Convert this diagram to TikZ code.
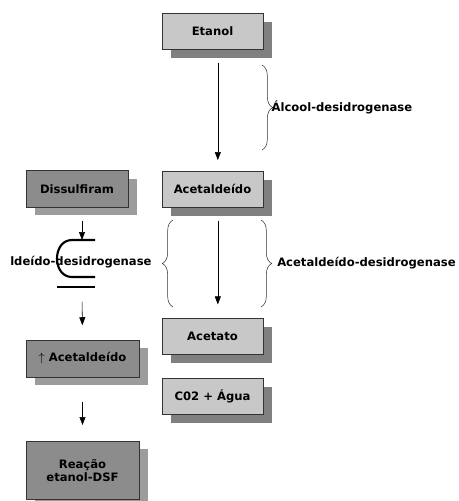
\documentclass[tikz,border=0pt]{standalone}
\usepackage{fontspec}
\setmainfont{DejaVu Sans}
\usetikzlibrary{arrows.meta,shadows,decorations.pathreplacing}
\definecolor{caixaclara}{HTML}{C8C8C8}
\definecolor{caixaescura}{HTML}{8C8C8C}
\definecolor{sombraclara}{HTML}{808080}
\definecolor{sombraescura}{HTML}{9C9C9C}
\begin{document}
\begin{tikzpicture}[x=0.75pt,y=-0.75pt,
        font=\bfseries\fontsize{8.7}{11}\selectfont,
        caixa/.style={draw=black!80,thin,fill=caixaclara,minimum width=75.75pt,minimum height=27pt,
            drop shadow={shadow xshift=7pt,shadow yshift=-6.5pt,fill=sombraclara,opacity=1}},
        caixaesq/.style={draw=black!80,thin,fill=caixaescura,minimum height=27.5pt,align=center,
            drop shadow={shadow xshift=7pt,shadow yshift=-6pt,fill=sombraescura,opacity=1}},
        seta/.style={-{Triangle[length=6pt,width=4.5pt]},thin},
        chave/.style={decorate,decoration={brace,amplitude=8pt},thin,draw=black!80},
        enzima/.style={text=black,inner sep=0pt}]
    \useasboundingbox (0,0) rectangle (459,501);
    % coluna da direita
    \node[caixa] (etanol) at (212.5,31) {Etanol};
    \node[caixa] (acetaldeido) at (212.5,189) {Acetaldeído};
    \node[caixa] (acetato) at (212.5,336) {Acetato};
    \node[caixa] (agua) at (212.5,396) {C02 + Água};
    \draw[seta,shorten <=10pt,shorten >=8pt] ([xshift=4pt]etanol.south) -- ([xshift=4pt]acetaldeido.north);
    \draw[seta,shorten <=10pt,shorten >=10pt] ([xshift=4pt]acetaldeido.south) -- ([xshift=4pt]acetato.north);
    \draw[chave] (262,65) -- (262,150) node[midway,right=7pt,enzima] (adh) {Álcool-desidrogenase};
    \draw[chave] (173,307) -- (173,220);
    \draw[chave] (261,220) -- (261,307) node[midway,right=12pt,enzima] (aldh) {Acetaldeído-desidrogenase};
    % coluna da esquerda
    \node[caixaesq,minimum width=76.5pt] (dissulfiram) at (77,189) {Dissulfiram};
    \node[caixaesq,minimum width=84.75pt] (aumento) at (82.5,358.5) {$\uparrow$ Acetaldeído};
    \node[caixaesq,minimum width=84.75pt,minimum height=43.5pt,anchor=north] (reacao) at (82.5,441) {Reação\\[-1pt]etanol-DSF};
    \node[anchor=west,enzima] (inibida) at (10,262) {ldeído-desidrogenase};
    \coordinate (inib) at (82,240);
    \coordinate (barra) at (82,287);
    \draw[line width=1.6pt] (95,240) -- (72,240) .. controls (52,240) and (52,277) .. (72,277) -- (95,277);
    \draw[line width=1.6pt] (57,287) -- (95,287);
    \draw[seta,shorten <=10pt] ([xshift=3.75pt]dissulfiram.south) -- (inib);
    \draw[seta,shorten <=11pt,shorten >=11pt] (barra) -- (aumento.north);
    \draw[seta,shorten <=19pt,shorten >=12pt] (aumento.south) -- (reacao.north);
\end{tikzpicture}
\end{document}
